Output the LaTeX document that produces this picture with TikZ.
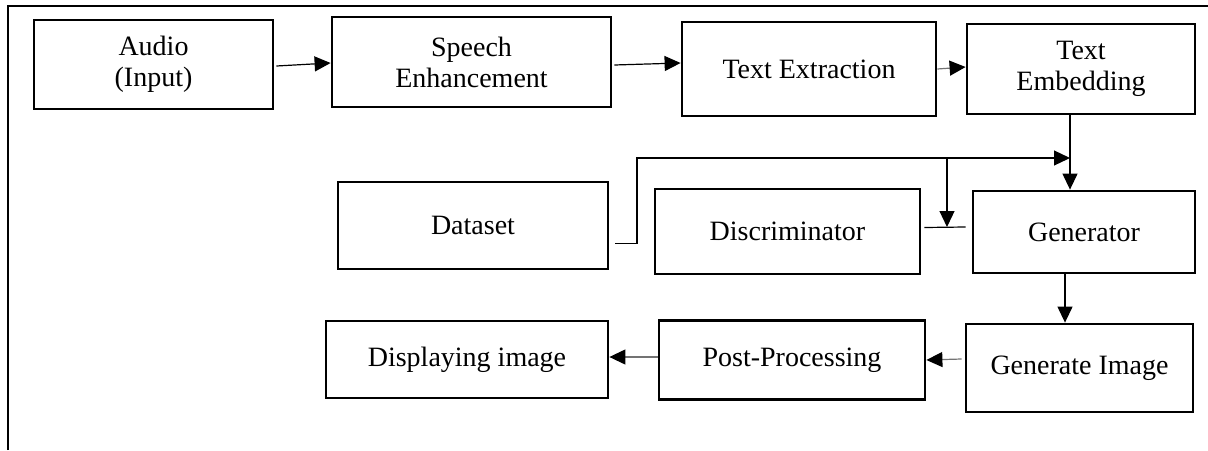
\documentclass[tikz,border=0pt]{standalone}
\usepackage{fontspec}
\setmainfont{Liberation Serif}
\usepackage{tikz}
\usetikzlibrary{arrows.meta}

\begin{document}
\begin{tikzpicture}[x=1pt,y=-1pt,
		blk/.style={draw, line width=2.8pt, inner sep=0pt, align=center,
			font=\fontsize{28}{31}\selectfont},
		link/.style={line width=1.2pt, -{Triangle[length=16pt,width=15pt]}},
		greylink/.style={link, draw=black!55, -{Triangle[length=16pt,width=15pt,color=black]}}]
	\useasboundingbox (0,0) rectangle (1208,450);

	% frame
	\draw[line width=2pt] (8,450) -- (8,6) -- (1208,6);

	% first row
	\node[blk, minimum width=239pt, minimum height=89pt] (audio) at (153.5,64.5) {Audio\\(Input)};
	\node[blk, minimum width=279pt, minimum height=90pt] (speech) at (471.5,62) {Speech\\Enhancement};
	\node[blk, minimum width=254pt, minimum height=94pt] (extract) at (809,69) {Text Extraction};
	\node[blk, minimum width=228pt, minimum height=90pt] (embed) at (1081,69) {Text\\Embedding};

	% second row
	\node[blk, minimum width=270pt, minimum height=87pt] (data) at (473,225.5) {Dataset};
	\node[blk, minimum width=265pt, minimum height=85pt] (disc) at (787.5,231.5) {Discriminator};
	\node[blk, minimum width=222pt, minimum height=82pt] (gen) at (1084,232) {Generator};

	% third row
	\node[blk, minimum width=282pt, minimum height=77pt] (show) at (467,359.5) {Displaying image};
	\node[blk, minimum width=266pt, minimum height=79pt] (post) at (792,360) {Post-Processing};
	\node[blk, minimum width=227pt, minimum height=88pt] (genimg) at (1079.5,368) {Generate Image};

	\coordinate (j) at (1070,158);
	\coordinate (k) at (947,158);

	\draw[link] ([shift={(2,1.5)}]audio.east) -- ([shift={(0,1)}]speech.west);
	\draw[link] ([shift={(2,3)}]speech.east) -- ([shift={(0,-6)}]extract.west);
	\draw[greylink] (extract.east) -- ([shift={(0,-2)}]embed.west);
	\draw[link] (embed.south -| j) -- (j |- gen.north);

	% dataset feed
	\draw[link] ([shift={(6,18)}]data.east) -| (637,158) -- (j);
	\draw[line width=1.2pt] ([shift={(3,-4)}]disc.east) -- ([shift={(-6,-5)}]gen.west);
	\draw[link] (k) -- (k |- 0,227);

	\draw[link] ([shift={(-19,0)}]gen.south) -- ([shift={(-19,0)}]gen.south |- genimg.north);
	\draw[greylink] ([shift={(-3,-9)}]genimg.west) -- (post.east);
	\draw[greylink] ([shift={(0,-3)}]post.west) -- ([shift={(0,-2.5)}]show.east);
\end{tikzpicture}
\end{document}
